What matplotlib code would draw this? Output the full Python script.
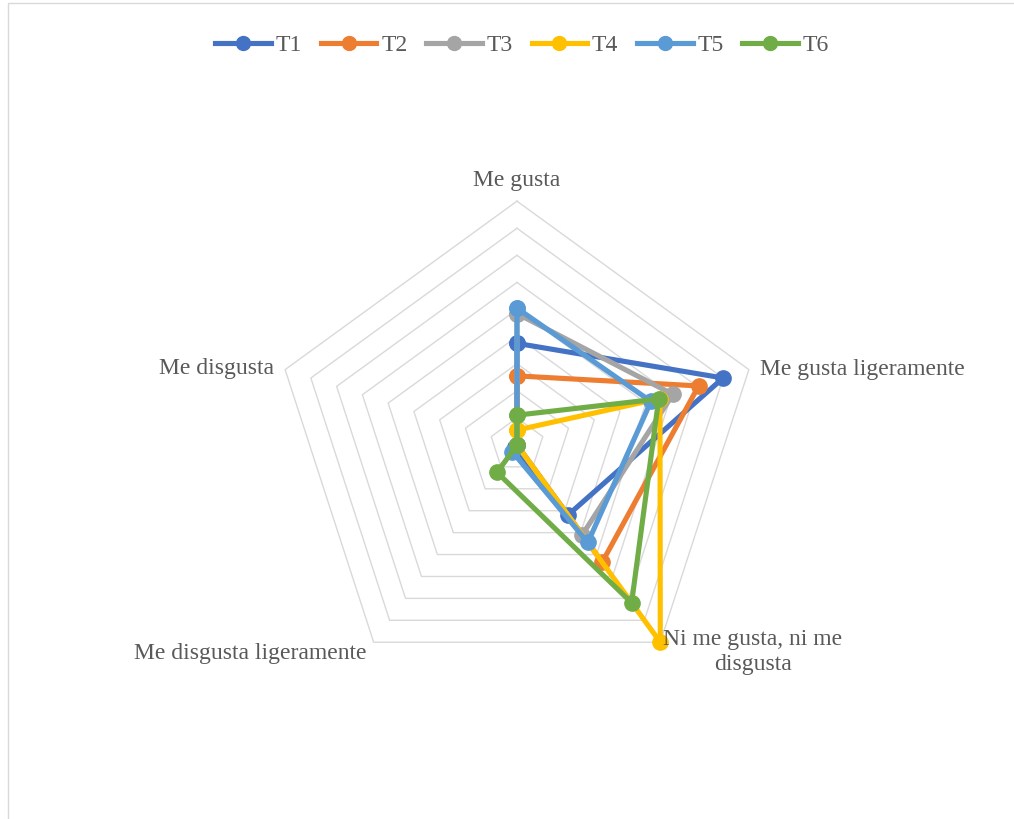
import numpy as np
import matplotlib
matplotlib.use('Agg')
import matplotlib.pyplot as plt
from matplotlib.lines import Line2D
from matplotlib.patches import Rectangle

categories = ['Me gusta', 'Me gusta ligeramente', 'Ni me gusta, ni me\ndisgusta',
              'Me disgusta ligeramente', 'Me disgusta']
series_names = ['T1', 'T2', 'T3', 'T4', 'T5', 'T6']
t1 = [7.5, 16.0, 6.4, 0.2, 0.0]
t2 = [5.1, 14.1, 10.7, 0.0, 0.0]
t3 = [9.7, 12.1, 8.2, 0.0, 0.0]
t4 = [1.1, 11.1, 18.0, 0.0, 0.0]
t5 = [10.1, 10.4, 8.9, 0.6, 0.0]
t6 = [2.2, 11.0, 14.4, 2.5, 0.0]
rings = [2, 4, 6, 8, 10, 12, 14, 16, 18]
colors = ['#4472C4', '#ED7D31', '#A5A5A5', '#FFC000', '#5B9BD5', '#70AD47']

plt.rcParams['font.family'] = ['Liberation Serif', 'DejaVu Serif']
txt = '#595959'

fig = plt.figure(figsize=(10.14, 8.19), dpi=100)
fig.patches.append(Rectangle((8 / 1014, -0.01), 1.1, 1 - 3 / 819 + 0.01,
                             transform=fig.transFigure, fill=False,
                             edgecolor='#D9D9D9', lw=1))

ax = fig.add_axes([0.2694, 0.159, 0.4809, 0.5954], projection='polar')
ax.set_theta_offset(np.pi / 2)
ax.set_theta_direction(-1)
ax.set_ylim(0, 18)
ax.grid(False)
ax.spines['polar'].set_visible(False)
ax.set_xticks([])
ax.set_yticks([])
ax.patch.set_alpha(0)

n = len(categories)
theta = np.linspace(0, 2 * np.pi, n, endpoint=False)
theta_c = np.append(theta, theta[0])

# pentagon gridlines
for r in rings:
    ax.plot(theta_c, [r] * (n + 1), color='#D9D9D9', lw=1.0, zorder=1, clip_on=False)

for name, vals, c in zip(series_names, [t1, t2, t3, t4, t5, t6], colors):
    v = np.append(vals, vals[0])
    ax.plot(theta_c, v, color=c, lw=3.7, marker='o', markersize=11,
            label=name, zorder=3, clip_on=False, solid_joinstyle='round')

# category labels, offsets in points from each outer vertex
fs = 17
rmax = rings[-1]
label_pos = [((0, 15), 'center', 'center'),
             ((8, 0), 'left', 'center'),
             ((2, -7), 'left', 'center'),
             ((-5, -8), 'right', 'center'),
             ((-8, 0.5), 'right', 'center')]
for i, (off, ha, va) in enumerate(label_pos):
    ax.annotate(categories[i], xy=(theta[i], rmax), xytext=off,
                textcoords='offset points', ha=ha, va=va, fontsize=fs,
                color=txt, multialignment='center', linespacing=1.3)

handles = [Line2D([], [], color=c, lw=3.7, marker='o', markersize=10) for c in colors]
fig.legend(handles, series_names, loc='center', bbox_to_anchor=(0.515, 0.945),
           ncol=6, frameon=False, fontsize=fs, handlelength=2.35,
           handletextpad=0.2, columnspacing=0.8, labelcolor=txt)

fig.savefig('out.png', dpi=100)
